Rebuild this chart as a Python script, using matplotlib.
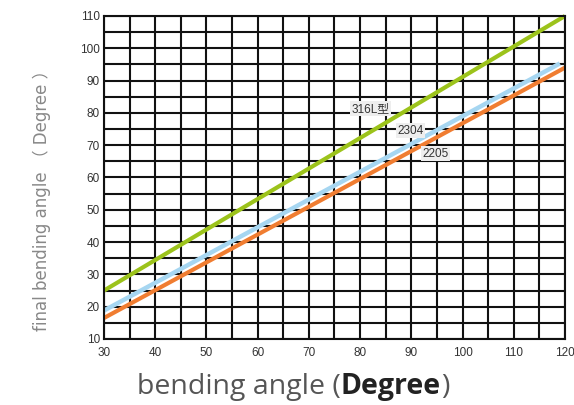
import matplotlib
matplotlib.use("Agg")
import matplotlib.pyplot as plt
import numpy as np

# data
bend = [30, 120]
final_316l = [25, 110]
bend_2304 = [30, 119]
final_2304 = [18.8, 95.3]
final_2205 = [16.5, 94]

labels = ["316L型", "2304", "2205"]
label_pos = [(82.1, 81.3), (89.8, 74.5), (94.8, 67.4)]

fig = plt.figure(figsize=(5.74, 4.05), dpi=100)
ax = fig.add_axes([0.1812, 0.163, 0.803, 0.7975])

ax.set_xlim(30, 120)
ax.set_ylim(10, 110)
ax.set_xticks(np.arange(30, 121, 10))
ax.set_yticks(np.arange(10, 111, 10))
ax.set_xticks(np.arange(30, 121, 5), minor=True)
ax.set_yticks(np.arange(10, 111, 5), minor=True)
ax.grid(which="both", color="#111111", linewidth=1.5)
ax.set_axisbelow(True)
for s in ax.spines.values():
    s.set_color("#111111")
    s.set_linewidth(1.5)
ax.tick_params(which="both", length=0)
ax.tick_params(axis="x", pad=6)
ax.tick_params(axis="y", pad=3)
for t in ax.get_xticklabels() + ax.get_yticklabels():
    t.set_fontfamily("Liberation Sans")
    t.set_fontsize(8.5)
    t.set_color("#333333")

ax.plot(bend, final_316l, color="#9cc31b", linewidth=3, solid_capstyle="butt", clip_on=False)
ax.plot(bend_2304, final_2304, color="#a6d6f1", linewidth=3.2, solid_capstyle="butt")
ax.plot(bend, final_2205, color="#f07d31", linewidth=3, solid_capstyle="butt")

for lab, (x, y) in zip(labels, label_pos):
    ax.text(x, y, lab, ha="center", va="center", fontsize=8.5, color="#333333",
            family=["Liberation Sans", "Noto Sans CJK SC"],
            bbox=dict(boxstyle="square,pad=0.12", fc="#eeeeee", ec="none"))

# y label
fig.text(0.073, 0.515, "final bending angle （ Degree ）", rotation=90,
         ha="center", va="center", fontsize=12, color="#888888",
         family=["DejaVu Sans", "Noto Sans CJK SC"])

# x label with bold part
fig.canvas.draw()
r = fig.canvas.get_renderer()
y0 = 1 - 394 / 405
t1 = fig.text(137 / 574, y0, "bending angle (", fontsize=20.5, color="#555555",
              family="Open Sans", va="baseline")
bb = t1.get_window_extent(r)
t2 = fig.text(bb.x1 / 574, y0, "Degree", fontsize=20.5, color="#222222",
              family="Open Sans", fontweight="bold", va="baseline")
bb2 = t2.get_window_extent(r)
fig.text(bb2.x1 / 574, y0, ")", fontsize=20.5, color="#555555",
         family="Open Sans", va="baseline")

fig.savefig("out.png", dpi=100)
